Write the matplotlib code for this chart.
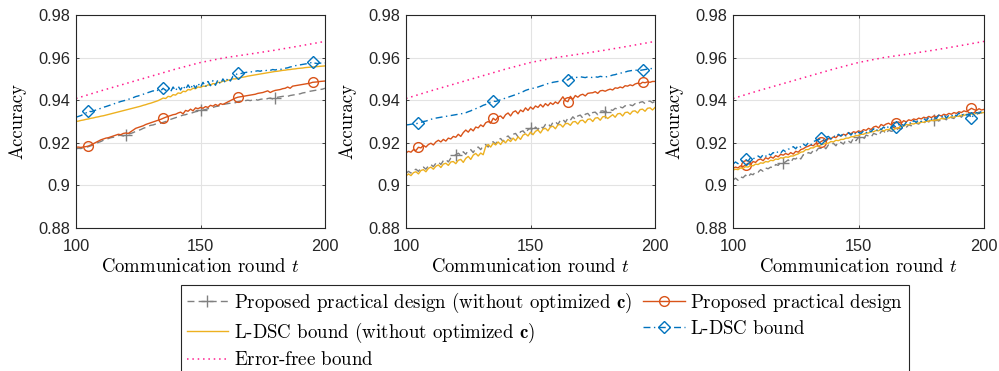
import numpy as np
import matplotlib
matplotlib.use("Agg")
import matplotlib.pyplot as plt

# ---------------- data (accuracy x 1e-4), rounds 100..200 ----------------
rounds = np.arange(100, 201)
rounds_ef = np.arange(100, 201, 10)
error_free = [9408, 9444, 9478, 9512, 9546, 9577, 9600, 9617, 9635, 9655, 9676]

# Panel 1
p1_gray = [9172, 9174, 9173, 9177, 9179, 9182, 9186, 9190, 9196, 9202,
           9206, 9212, 9216, 9220, 9224, 9226, 9230, 9234, 9236, 9232,
           9238, 9241, 9244, 9248, 9254, 9258, 9262, 9268, 9272, 9278,
           9282, 9284, 9288, 9290, 9292, 9296, 9300, 9304, 9310, 9314,
           9318, 9322, 9326, 9330, 9332, 9336, 9338, 9342, 9346, 9348,
           9352, 9354, 9356, 9360, 9364, 9366, 9370, 9372, 9376, 9380,
           9382, 9384, 9386, 9390, 9388, 9393, 9396, 9394, 9398, 9400,
           9398, 9402, 9404, 9400, 9404, 9406, 9402, 9408, 9410, 9406,
           9410, 9414, 9416, 9418, 9420, 9418, 9422, 9424, 9426, 9428,
           9430, 9434, 9436, 9438, 9442, 9444, 9446, 9448, 9450, 9452, 9456]
p1_red = [9179, 9180, 9178, 9181, 9182, 9185, 9190, 9196, 9202, 9208,
          9214, 9218, 9222, 9224, 9228, 9232, 9236, 9240, 9238, 9244,
          9246, 9244, 9252, 9260, 9268, 9272, 9276, 9280, 9286, 9290,
          9294, 9298, 9302, 9306, 9310, 9315, 9320, 9324, 9328, 9332,
          9334, 9340, 9344, 9336, 9352, 9348, 9358, 9350, 9364, 9360,
          9366, 9362, 9370, 9366, 9376, 9372, 9380, 9374, 9384, 9380,
          9386, 9392, 9398, 9404, 9410, 9414, 9416, 9418, 9420, 9422,
          9424, 9426, 9428, 9432, 9434, 9436, 9440, 9444, 9436, 9442,
          9446, 9448, 9450, 9454, 9456, 9462, 9456, 9466, 9468, 9470,
          9472, 9474, 9476, 9478, 9480, 9484, 9485, 9486, 9488, 9489, 9490]
p1_yellow = [9300, 9302, 9305, 9307, 9310, 9312, 9315, 9317, 9320, 9322,
             9325, 9327, 9330, 9333, 9336, 9339, 9342, 9345, 9348, 9351,
             9354, 9357, 9360, 9363, 9366, 9369, 9372, 9376, 9379, 9383,
             9386, 9390, 9394, 9398, 9404, 9410, 9408, 9418, 9416, 9426,
             9424, 9434, 9432, 9442, 9440, 9450, 9448, 9456, 9454, 9462,
             9460, 9466, 9465, 9472, 9471, 9478, 9477, 9484, 9483, 9490,
             9489, 9494, 9496, 9500, 9500, 9503, 9506, 9508, 9510, 9513,
             9515, 9517, 9519, 9521, 9523, 9525, 9527, 9529, 9531, 9533,
             9535, 9536, 9538, 9540, 9541, 9543, 9544, 9546, 9547, 9549,
             9550, 9551, 9553, 9554, 9555, 9556, 9557, 9558, 9559, 9560, 9561]
p1_blue = [9320, 9324, 9328, 9334, 9340, 9350, 9346, 9350, 9354, 9358,
           9362, 9367, 9370, 9374, 9378, 9382, 9386, 9390, 9394, 9397,
           9400, 9404, 9408, 9412, 9417, 9420, 9424, 9428, 9432, 9436,
           9440, 9444, 9440, 9448, 9444, 9456, 9446, 9460, 9440, 9462,
           9444, 9466, 9448, 9468, 9450, 9472, 9452, 9476, 9456, 9480,
           9460, 9484, 9462, 9488, 9468, 9492, 9470, 9496, 9476, 9500,
           9482, 9504, 9490, 9512, 9518, 9526, 9524, 9528, 9530, 9532,
           9534, 9532, 9536, 9538, 9536, 9540, 9538, 9542, 9540, 9544,
           9542, 9545, 9544, 9548, 9550, 9552, 9556, 9558, 9562, 9564,
           9566, 9568, 9570, 9572, 9574, 9580, 9574, 9572, 9574, 9575, 9575]

# Panel 2
p2_gray = [9057, 9066, 9058, 9070, 9076, 9066, 9082, 9086, 9076, 9092,
           9098, 9088, 9104, 9110, 9098, 9116, 9122, 9110, 9128, 9136,
           9144, 9151, 9142, 9158, 9146, 9164, 9168, 9154, 9174, 9180,
           9168, 9186, 9192, 9180, 9200, 9205, 9194, 9216, 9220, 9206,
           9226, 9232, 9218, 9240, 9244, 9228, 9252, 9256, 9242, 9262,
           9268, 9256, 9274, 9262, 9280, 9268, 9286, 9292, 9276, 9296,
           9300, 9286, 9306, 9310, 9296, 9315, 9306, 9322, 9310, 9326,
           9330, 9316, 9334, 9338, 9324, 9342, 9344, 9332, 9348, 9350,
           9346, 9351, 9356, 9352, 9362, 9358, 9368, 9364, 9374, 9370,
           9378, 9374, 9384, 9380, 9390, 9393, 9384, 9394, 9396, 9388, 9395]
p2_red = [9153, 9160, 9156, 9168, 9164, 9179, 9176, 9188, 9180, 9192,
          9198, 9190, 9204, 9212, 9204, 9216, 9208, 9222, 9218, 9230,
          9226, 9240, 9230, 9248, 9260, 9250, 9266, 9256, 9274, 9270,
          9284, 9276, 9294, 9300, 9292, 9315, 9306, 9322, 9326, 9314,
          9332, 9340, 9326, 9344, 9350, 9336, 9354, 9346, 9364, 9352,
          9368, 9358, 9373, 9366, 9380, 9368, 9384, 9374, 9388, 9380,
          9392, 9384, 9400, 9416, 9398, 9393, 9418, 9404, 9422, 9414,
          9424, 9428, 9420, 9432, 9434, 9435, 9440, 9432, 9444, 9446,
          9442, 9448, 9452, 9448, 9458, 9456, 9462, 9458, 9468, 9466,
          9472, 9468, 9476, 9480, 9476, 9484, 9482, 9486, 9484, 9488, 9488]
p2_yellow = [9044, 9054, 9046, 9060, 9064, 9054, 9070, 9074, 9064, 9080,
             9086, 9076, 9090, 9096, 9084, 9100, 9104, 9094, 9110, 9112,
             9102, 9118, 9122, 9108, 9127, 9136, 9122, 9142, 9150, 9138,
             9152, 9144, 9182, 9192, 9180, 9198, 9190, 9204, 9192, 9210,
             9200, 9216, 9206, 9222, 9210, 9228, 9216, 9236, 9242, 9232,
             9250, 9238, 9254, 9260, 9246, 9264, 9268, 9256, 9274, 9278,
             9266, 9284, 9286, 9274, 9290, 9291, 9282, 9298, 9300, 9288,
             9304, 9306, 9294, 9310, 9312, 9300, 9316, 9318, 9306, 9322,
             9324, 9314, 9323, 9332, 9320, 9336, 9338, 9326, 9342, 9344,
             9334, 9348, 9350, 9340, 9356, 9358, 9348, 9362, 9364, 9354, 9366]
p2_blue = [9284, 9285, 9287, 9289, 9290, 9292, 9296, 9300, 9302, 9306,
           9310, 9314, 9316, 9318, 9320, 9322, 9324, 9326, 9328, 9330,
           9332, 9334, 9336, 9338, 9341, 9346, 9350, 9356, 9360, 9366,
           9370, 9376, 9380, 9386, 9392, 9396, 9394, 9398, 9402, 9406,
           9410, 9414, 9418, 9422, 9426, 9430, 9436, 9440, 9446, 9450,
           9453, 9456, 9458, 9462, 9466, 9470, 9474, 9478, 9480, 9484,
           9486, 9488, 9490, 9492, 9494, 9495, 9504, 9510, 9506, 9508,
           9510, 9508, 9506, 9510, 9508, 9506, 9510, 9508, 9512, 9510,
           9508, 9512, 9514, 9518, 9520, 9524, 9526, 9530, 9532, 9536,
           9538, 9540, 9540, 9542, 9540, 9542, 9544, 9546, 9548, 9549, 9550]

# Panel 3
p3_gray = [9025, 9034, 9024, 9040, 9036, 9048, 9038, 9054, 9050, 9064,
           9062, 9074, 9066, 9082, 9078, 9086, 9082, 9098, 9094, 9108,
           9104, 9111, 9120, 9108, 9126, 9124, 9136, 9124, 9144, 9142,
           9154, 9150, 9164, 9158, 9174, 9174, 9184, 9172, 9190, 9188,
           9198, 9186, 9204, 9202, 9194, 9212, 9208, 9200, 9222, 9210,
           9226, 9222, 9216, 9236, 9232, 9226, 9244, 9240, 9234, 9252,
           9256, 9242, 9260, 9254, 9256, 9260, 9268, 9264, 9276, 9272,
           9284, 9280, 9286, 9292, 9288, 9300, 9290, 9304, 9298, 9306,
           9307, 9314, 9302, 9318, 9314, 9308, 9324, 9318, 9314, 9330,
           9330, 9320, 9334, 9330, 9326, 9340, 9334, 9330, 9344, 9340, 9345]
p3_red = [9080, 9086, 9082, 9092, 9088, 9096, 9104, 9098, 9112, 9108,
          9120, 9124, 9116, 9130, 9124, 9134, 9128, 9140, 9134, 9146,
          9142, 9150, 9144, 9154, 9147, 9160, 9156, 9168, 9172, 9180,
          9184, 9190, 9186, 9198, 9196, 9205, 9212, 9206, 9220, 9218,
          9228, 9224, 9236, 9232, 9240, 9236, 9248, 9242, 9252, 9248,
          9256, 9252, 9262, 9258, 9268, 9262, 9274, 9278, 9270, 9286,
          9280, 9288, 9292, 9284, 9296, 9294, 9298, 9292, 9304, 9298,
          9308, 9304, 9312, 9308, 9316, 9312, 9320, 9316, 9324, 9318,
          9326, 9322, 9330, 9326, 9334, 9330, 9338, 9334, 9342, 9338,
          9346, 9342, 9350, 9346, 9354, 9362, 9356, 9352, 9360, 9354, 9357]
p3_yellow = [9072, 9076, 9074, 9082, 9080, 9088, 9086, 9094, 9092, 9100,
             9098, 9106, 9104, 9112, 9110, 9118, 9116, 9124, 9122, 9130,
             9128, 9134, 9132, 9138, 9138, 9144, 9148, 9156, 9158, 9168,
             9168, 9176, 9176, 9184, 9184, 9190, 9194, 9198, 9198, 9206,
             9204, 9212, 9210, 9216, 9216, 9222, 9222, 9228, 9229, 9234,
             9234, 9240, 9240, 9246, 9246, 9252, 9252, 9258, 9256, 9264,
             9254, 9262, 9262, 9268, 9262, 9268, 9270, 9278, 9278, 9286,
             9284, 9290, 9288, 9294, 9292, 9298, 9296, 9302, 9300, 9306,
             9304, 9307, 9308, 9314, 9312, 9318, 9316, 9322, 9320, 9326,
             9324, 9330, 9328, 9334, 9331, 9336, 9334, 9340, 9337, 9342, 9342]
p3_blue = [9100, 9110, 9102, 9114, 9116, 9122, 9114, 9130, 9124, 9132,
           9138, 9130, 9144, 9136, 9150, 9142, 9154, 9148, 9160, 9152,
           9166, 9158, 9170, 9172, 9182, 9172, 9188, 9180, 9194, 9186,
           9200, 9190, 9206, 9210, 9214, 9221, 9212, 9226, 9230, 9218,
           9234, 9226, 9240, 9232, 9244, 9232, 9248, 9236, 9252, 9238,
           9250, 9244, 9256, 9246, 9260, 9252, 9266, 9254, 9270, 9262,
           9274, 9264, 9278, 9268, 9282, 9273, 9284, 9292, 9280, 9296,
           9300, 9288, 9304, 9296, 9308, 9300, 9314, 9304, 9320, 9310,
           9322, 9314, 9330, 9318, 9334, 9316, 9330, 9324, 9336, 9326,
           9340, 9326, 9338, 9330, 9336, 9315, 9334, 9342, 9338, 9348, 9351]

panels = [
    dict(gray=p1_gray, red=p1_red, yellow=p1_yellow, blue=p1_blue),
    dict(gray=p2_gray, red=p2_red, yellow=p2_yellow, blue=p2_blue),
    dict(gray=p3_gray, red=p3_red, yellow=p3_yellow, blue=p3_blue),
]

labels = {
    "gray": r"Proposed practical design (without optimized $\mathbf{c}$)",
    "red": r"Proposed practical design$\,$",
    "yellow": r"L-DSC bound (without optimized $\mathbf{c}$)",
    "blue": r"L-DSC bound$\,$",
    "pink": r"Error-free bound$\,$",
}
yticks = [0.88, 0.90, 0.92, 0.94, 0.96, 0.98]
ytick_labels = ["0.88", "0.9", "0.92", "0.94", "0.96", "0.98"]
xticks = [100, 150, 200]
xtick_labels = ["100", "150", "200"]

# ---------------- style ----------------
plt.rcParams["font.family"] = ["cmr10"]
plt.rcParams["mathtext.fontset"] = "cm"
plt.rcParams["axes.formatter.use_mathtext"] = True

C_GRAY = "#808080"
C_RED = "#D95319"
C_YEL = "#EDB120"
C_BLUE = "#0072BD"
C_PINK = "#FF1C8D"
AX_COL = "#262626"

fig = plt.figure(figsize=(9.99, 3.71), dpi=100)
W, H = 999.0, 371.0
axes_px = [(76, 325), (406, 655), (733, 984)]
top, bottom = 15, 228

handles = {}
for (x0, x1), pdata in zip(axes_px, panels):
    ax = fig.add_axes([x0 / W, 1 - bottom / H, (x1 - x0) / W, (bottom - top) / H])
    s = 1e-4
    h_gray, = ax.plot(rounds, np.array(pdata["gray"]) * s, color=C_GRAY, lw=1.0,
                      ls=(0, (5, 3)), marker="+", ms=8, mew=1.0,
                      markevery=slice(20, None, 30))
    h_red, = ax.plot(rounds, np.array(pdata["red"]) * s, color=C_RED, lw=1.0,
                     ls="-", marker="o", ms=7, mfc="none", mew=1.0,
                     markevery=slice(5, None, 30))
    h_yel, = ax.plot(rounds, np.array(pdata["yellow"]) * s, color=C_YEL, lw=1.0, ls="-")
    h_blue, = ax.plot(rounds, np.array(pdata["blue"]) * s, color=C_BLUE, lw=1.0,
                      ls=(0, (5, 2.5, 1, 2.5)), marker="D", ms=6, mfc="none", mew=1.0,
                      markevery=slice(5, None, 30))
    h_pink, = ax.plot(rounds_ef, np.array(error_free) * s, color=C_PINK, lw=1.1,
                      ls=(0, (1, 2.5)))
    handles = dict(gray=h_gray, red=h_red, yellow=h_yel, blue=h_blue, pink=h_pink)

    ax.set_xlim(100, 200)
    ax.set_ylim(0.88, 0.98)
    ax.set_xticks(xticks)
    ax.set_xticklabels(xtick_labels)
    ax.set_yticks(yticks)
    ax.set_yticklabels(ytick_labels)
    ax.grid(True, color="#e3e3e3", lw=0.8)
    ax.set_axisbelow(True)
    for sp in ax.spines.values():
        sp.set_color(AX_COL)
        sp.set_linewidth(0.8)
    ax.tick_params(direction="in", length=2.5, width=0.6, colors=AX_COL,
                   top=True, right=True, labelsize=11.8,
                   labelfontfamily="Liberation Sans")
    ax.tick_params(axis="x", pad=8)
    ax.tick_params(axis="y", pad=4)
    ax.set_xlabel(r"Communication round $t$", fontsize=13.5, labelpad=3)
    ax.set_ylabel("Accuracy", fontsize=13.5, labelpad=8.5)

order = ["gray", "yellow", "pink", "red", "blue"]
leg = fig.legend([handles[k] for k in order], [labels[k] for k in order],
                 ncol=2, loc="upper left", bbox_to_anchor=(181 / W, 1 - 285 / H),
                 bbox_transform=fig.transFigure, fontsize=13.6, frameon=True,
                 fancybox=False, edgecolor=AX_COL, framealpha=1,
                 handlelength=2.2, handletextpad=0.3, columnspacing=0.6,
                 labelspacing=0.32, borderpad=0.3, borderaxespad=0)
leg.get_frame().set_linewidth(0.8)

fig.savefig("out.png", dpi=100)
